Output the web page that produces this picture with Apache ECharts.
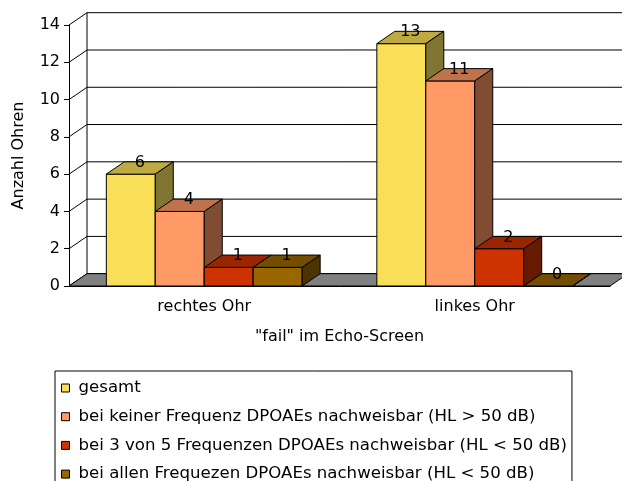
<!DOCTYPE html>
<html>
<head>
<meta charset="utf-8">
<title>fail im Echo-Screen</title>
<script src="https://cdn.jsdelivr.net/npm/echarts@6/dist/echarts.min.js"></script>
<style>
  html, body { margin: 0; padding: 0; background: #fff; }
  #chart { width: 622px; height: 481px; }
</style>
</head>
<body>
<div id="chart"></div>
<script type="text/javascript">
// Daten
var kategorien = ['rechtes Ohr', 'linkes Ohr'];
var serienNamen = [
  'gesamt',
  'bei keiner Frequenz DPOAEs nachweisbar (HL > 50 dB)',
  'bei 3 von 5 Frequenzen DPOAEs nachweisbar (HL < 50 dB)',
  'bei allen Frequezen DPOAEs nachweisbar (HL < 50 dB)'
];
var gesamt = [6, 13];
var keineFrequenz = [4, 11];
var dreiVonFuenf = [1, 2];
var alleFrequenzen = [1, 0];
var yTicks = [0, 2, 4, 6, 8, 10, 12, 14];

// Farben: Vorderseite, Oberseite, Seite
var farben = [
  ['#F9DF57', '#BFAA42', '#807532'],
  ['#FF9966', '#BF734D', '#804D33'],
  ['#CC3300', '#992600', '#661A00'],
  ['#996600', '#734D00', '#4D3300']
];

var DX = 18, DY = -12.3;   // 3D-Tiefe
var BAR_FRAC = 0.181;      // Balkenbreite relativ zur Kategorie
var FONT = 'DejaVu Sans';

var chart = echarts.init(document.getElementById('chart'));

function waende(params, api) {
  var cs = params.coordSys;
  var v = api.value(1);
  var y = api.coord([0, v])[1];
  var kinder = [
    {type: 'line', shape: {x1: cs.x, y1: y, x2: cs.x + DX, y2: y + DY},
     style: {stroke: '#000', lineWidth: 1}},
    {type: 'line', shape: {x1: cs.x + DX, y1: y + DY, x2: cs.x + cs.width + DX, y2: y + DY},
     style: {stroke: '#000', lineWidth: 1}}
  ];
  if (v === 0) {
    kinder.push({type: 'line', shape: {x1: cs.x + DX, y1: y + DY, x2: cs.x + DX, y2: cs.y + DY},
      style: {stroke: '#000', lineWidth: 1}});
  }
  return {type: 'group', children: kinder};
}

function boden(params, api) {
  var cs = params.coordSys;
  var y = api.coord([0, 0])[1];
  var xl = cs.x, xr = cs.x + cs.width;
  return {
    type: 'polygon',
    shape: {points: [[xl, y], [xr, y], [xr + DX, y + DY], [xl + DX, y + DY]]},
    style: {fill: '#808080', stroke: '#000', lineWidth: 1}
  };
}

function balkenRenderer(si) {
  return function (params, api) {
    var ci = api.value(0), v = api.value(1);
    var basis = api.coord([ci, 0]);
    var oben = api.coord([ci, v]);
    var band = api.size([1, 0])[0];
    var w = band * BAR_FRAC;
    var x0 = basis[0] - 2 * w + si * w;
    var ty = oben[1], by = basis[1];
    var f = farben[si];
    var linie = {stroke: '#000', lineWidth: 1};
    return {
      type: 'group',
      children: [
        {type: 'rect', shape: {x: x0, y: ty, width: w, height: by - ty},
         style: Object.assign({fill: f[0]}, linie)},
        {type: 'polygon', shape: {points: [[x0, ty], [x0 + w, ty], [x0 + w + DX, ty + DY], [x0 + DX, ty + DY]]},
         style: Object.assign({fill: f[1]}, linie)},
        {type: 'polygon', shape: {points: [[x0 + w, ty], [x0 + w + DX, ty + DY], [x0 + w + DX, by + DY], [x0 + w, by]]},
         style: Object.assign({fill: f[2]}, linie)},
        {type: 'text', z2: 10, style: {
          text: String(v), x: x0 + w / 2 + DX / 2, y: ty + DY + 1,
          align: 'center', verticalAlign: 'middle',
          font: '16px ' + FONT, fill: '#000'}}
      ]
    };
  };
}

var werte = [gesamt, keineFrequenz, dreiVonFuenf, alleFrequenzen];
var serien = [
  {type: 'custom', name: '_wand', silent: true, z: 1, renderItem: waende,
   data: yTicks.map(function (t) { return [0, t]; }), encode: {x: 0, y: 1}},
  {type: 'custom', name: '_boden', silent: true, z: 2, renderItem: boden,
   data: [[0, 0]], encode: {x: 0, y: 1}}
];
for (var i = 0; i < 4; i++) {
  serien.push({
    type: 'custom',
    name: serienNamen[i],
    z: 3,
    renderItem: balkenRenderer(i),
    itemStyle: {color: farben[i][0]},
    encode: {x: 0, y: 1},
    data: werte[i].map(function (v, k) { return [k, v]; })
  });
}

var option = {
  animation: false,
  backgroundColor: '#fff',
  textStyle: {fontFamily: FONT},
  grid: {left: 69, right: 12, top: 25, bottom: 195, containLabel: false},
  legend: {
    data: serienNamen,
    orient: 'vertical',
    left: 55,
    top: 371,
    height: 200,
    padding: [7, 5, 6, 6],
    itemGap: 8.7,
    itemWidth: 8,
    itemHeight: 8,
    icon: 'rect',
    borderColor: '#000',
    borderWidth: 1,
    backgroundColor: '#fff',
    itemStyle: {borderColor: '#000', borderWidth: 1},
    textStyle: {fontFamily: FONT, fontSize: 16.6, color: '#000', lineHeight: 20, padding: [0, 0, 0, 4]}
  },
  xAxis: {
    type: 'category',
    data: kategorien,
    name: '"fail" im Echo-Screen',
    nameLocation: 'middle',
    nameGap: 43,
    nameTextStyle: {fontFamily: FONT, fontSize: 16, color: '#000'},
    axisLine: {lineStyle: {color: '#000', width: 1}},
    axisTick: {length: 5, lineStyle: {color: '#000'}},
    axisLabel: {margin: 13, fontFamily: FONT, fontSize: 16, color: '#000'},
    splitLine: {show: false}
  },
  yAxis: {
    type: 'value',
    min: 0,
    max: 14,
    interval: 2,
    name: 'Anzahl Ohren',
    nameLocation: 'middle',
    nameGap: 42,
    nameTextStyle: {fontFamily: FONT, fontSize: 16, color: '#000'},
    axisLine: {show: true, lineStyle: {color: '#000', width: 1}},
    axisTick: {show: true, length: 5, lineStyle: {color: '#000'}},
    axisLabel: {margin: 9, fontFamily: FONT, fontSize: 16, color: '#000'},
    splitLine: {show: false}
  },
  series: serien
};
chart.setOption(option);
</script>
</body>
</html>
